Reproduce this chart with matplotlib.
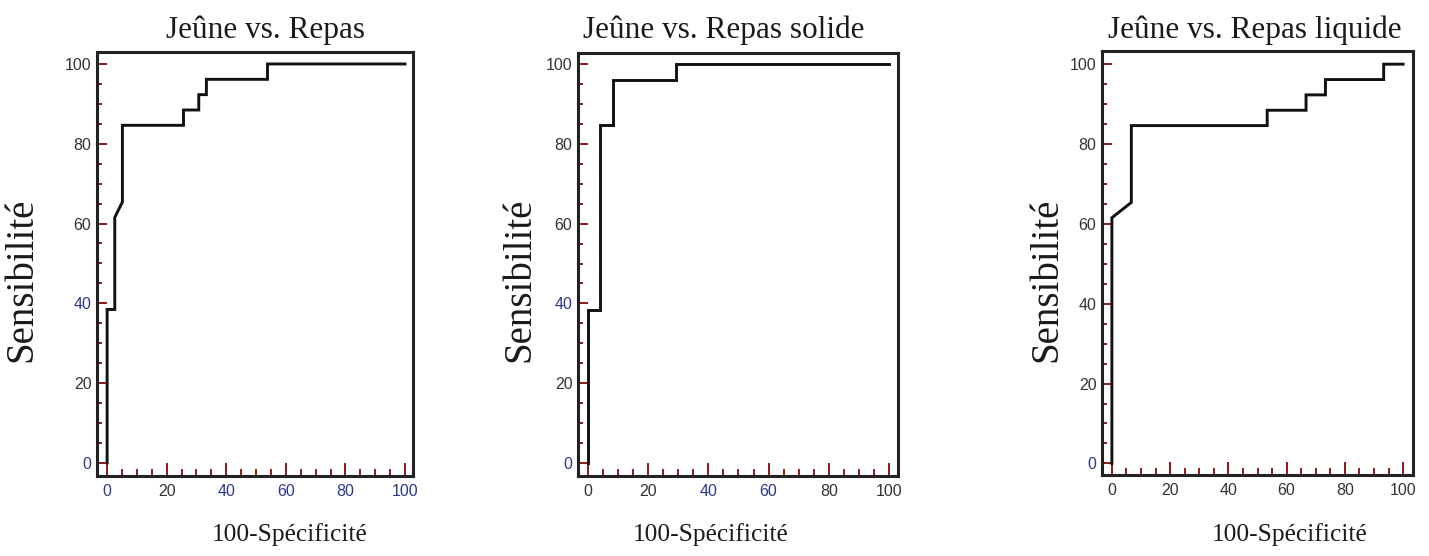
import matplotlib
matplotlib.use("Agg")
import matplotlib.pyplot as plt
from matplotlib.ticker import MultipleLocator

# ---- data ----
titles = ["Jeûne vs. Repas", "Jeûne vs. Repas solide", "Jeûne vs. Repas liquide"]
xlabel = "100-Spécificité"
ylabel = "Sensibilité"

roc1_x = [0, 0, 2.56, 2.56, 5.13, 5.13, 25.64, 25.64, 30.77, 30.77, 33.33, 33.33, 53.85, 53.85, 100]
roc1_y = [0, 38.46, 38.46, 61.54, 65.38, 84.62, 84.62, 88.46, 88.46, 92.31, 92.31, 96.15, 96.15, 100, 100]

roc2_x = [0, 0, 4.17, 4.17, 8.33, 8.33, 29.17, 29.17, 100]
roc2_y = [0, 38.46, 38.46, 84.62, 84.62, 96.15, 96.15, 100, 100]

roc3_x = [0, 0, 6.67, 6.67, 53.33, 53.33, 66.67, 66.67, 73.33, 73.33, 93.33, 93.33, 100]
roc3_y = [0, 61.54, 65.38, 84.62, 84.62, 88.46, 88.46, 92.31, 92.31, 96.15, 96.15, 100, 100]

ticks = [0, 20, 40, 60, 80, 100]
# tick label colours: 'b' = navy, 'k' = dark grey
xcolors = [list("bkbbbb"), list("kkbbkk"), list("kkkkkk")]
ycolors = [list("bkbkkk"), list("bkbkkk"), list("bkkkkk")]

# ---- styles ----
W, H = 1429, 556
NAVY = "#2e3790"
GREY = "#333333"
TICKC = "#8b1a1a"
serif = ["Liberation Serif", "DejaVu Serif"]
narrow = ["Liberation Sans Narrow", "Liberation Sans", "DejaVu Sans"]

axes_px = [(97, 52, 413, 476), (578, 53, 898, 476), (1102, 51, 1413, 475)]
lims = [((-3.4, 102.7), (-3.3, 103.0)), ((-3.3, 103.0), (-3.3, 102.8)), ((-3.4, 103.4), (-2.9, 103.3))]
title_x = [265, 724, 1255]
xlab_x = [290, 711, 1290]
ylab_x = [22, 520, 1047]

fig = plt.figure(figsize=(W / 100, H / 100), dpi=100)
data = [(roc1_x, roc1_y), (roc2_x, roc2_y), (roc3_x, roc3_y)]

for i, (xs, ys) in enumerate(data):
    l, t, r, b = axes_px[i]
    ax = fig.add_axes([l / W, 1 - b / H, (r - l) / W, (b - t) / H])
    ax.plot(xs, ys, color="#111111", lw=2.1, solid_joinstyle="miter", zorder=3)
    ax.set_xlim(*lims[i][0])
    ax.set_ylim(*lims[i][1])
    for s in ax.spines.values():
        s.set_linewidth(2.2)
        s.set_color("#222222")
    ax.set_xticks(ticks)
    ax.set_yticks(ticks)
    ax.xaxis.set_minor_locator(MultipleLocator(5))
    ax.yaxis.set_minor_locator(MultipleLocator(5))
    ax.tick_params(axis="x", which="major", direction="in", length=9.4, width=1.4,
                   color=TICKC, pad=5.5, labelsize=11.5)
    ax.tick_params(axis="x", which="minor", direction="in", length=5, width=1.4, color=TICKC)
    ax.tick_params(axis="y", which="major", direction="in", length=7.2, width=1.4,
                   color=TICKC, pad=4, labelsize=11.5)
    ax.tick_params(axis="y", which="minor", direction="in", length=3.6, width=1.4, color=TICKC)
    ax.set_xticklabels([str(v) for v in ticks], family=narrow)
    ax.set_yticklabels([str(v) for v in ticks], family=narrow)
    for lab, c in zip(ax.get_xticklabels(), xcolors[i]):
        lab.set_color(NAVY if c == "b" else GREY)
    for lab, c in zip(ax.get_yticklabels(), ycolors[i]):
        lab.set_color(NAVY if c == "b" else GREY)

    fig.text(title_x[i] / W, 1 - 38 / H, titles[i], ha="center", va="baseline",
             family=serif, fontsize=22.5, color="#1a1a1a")
    fig.text(xlab_x[i] / W, 1 - 535 / H, xlabel, ha="center", va="center",
             family=serif, fontsize=18.3, color="#1a1a1a")
    fig.text(ylab_x[i] / W, 1 - 280 / H, ylabel, ha="center", va="center", rotation=90,
             family=serif, fontsize=28, color="#1a1a1a")

fig.savefig("out.png", dpi=100)
